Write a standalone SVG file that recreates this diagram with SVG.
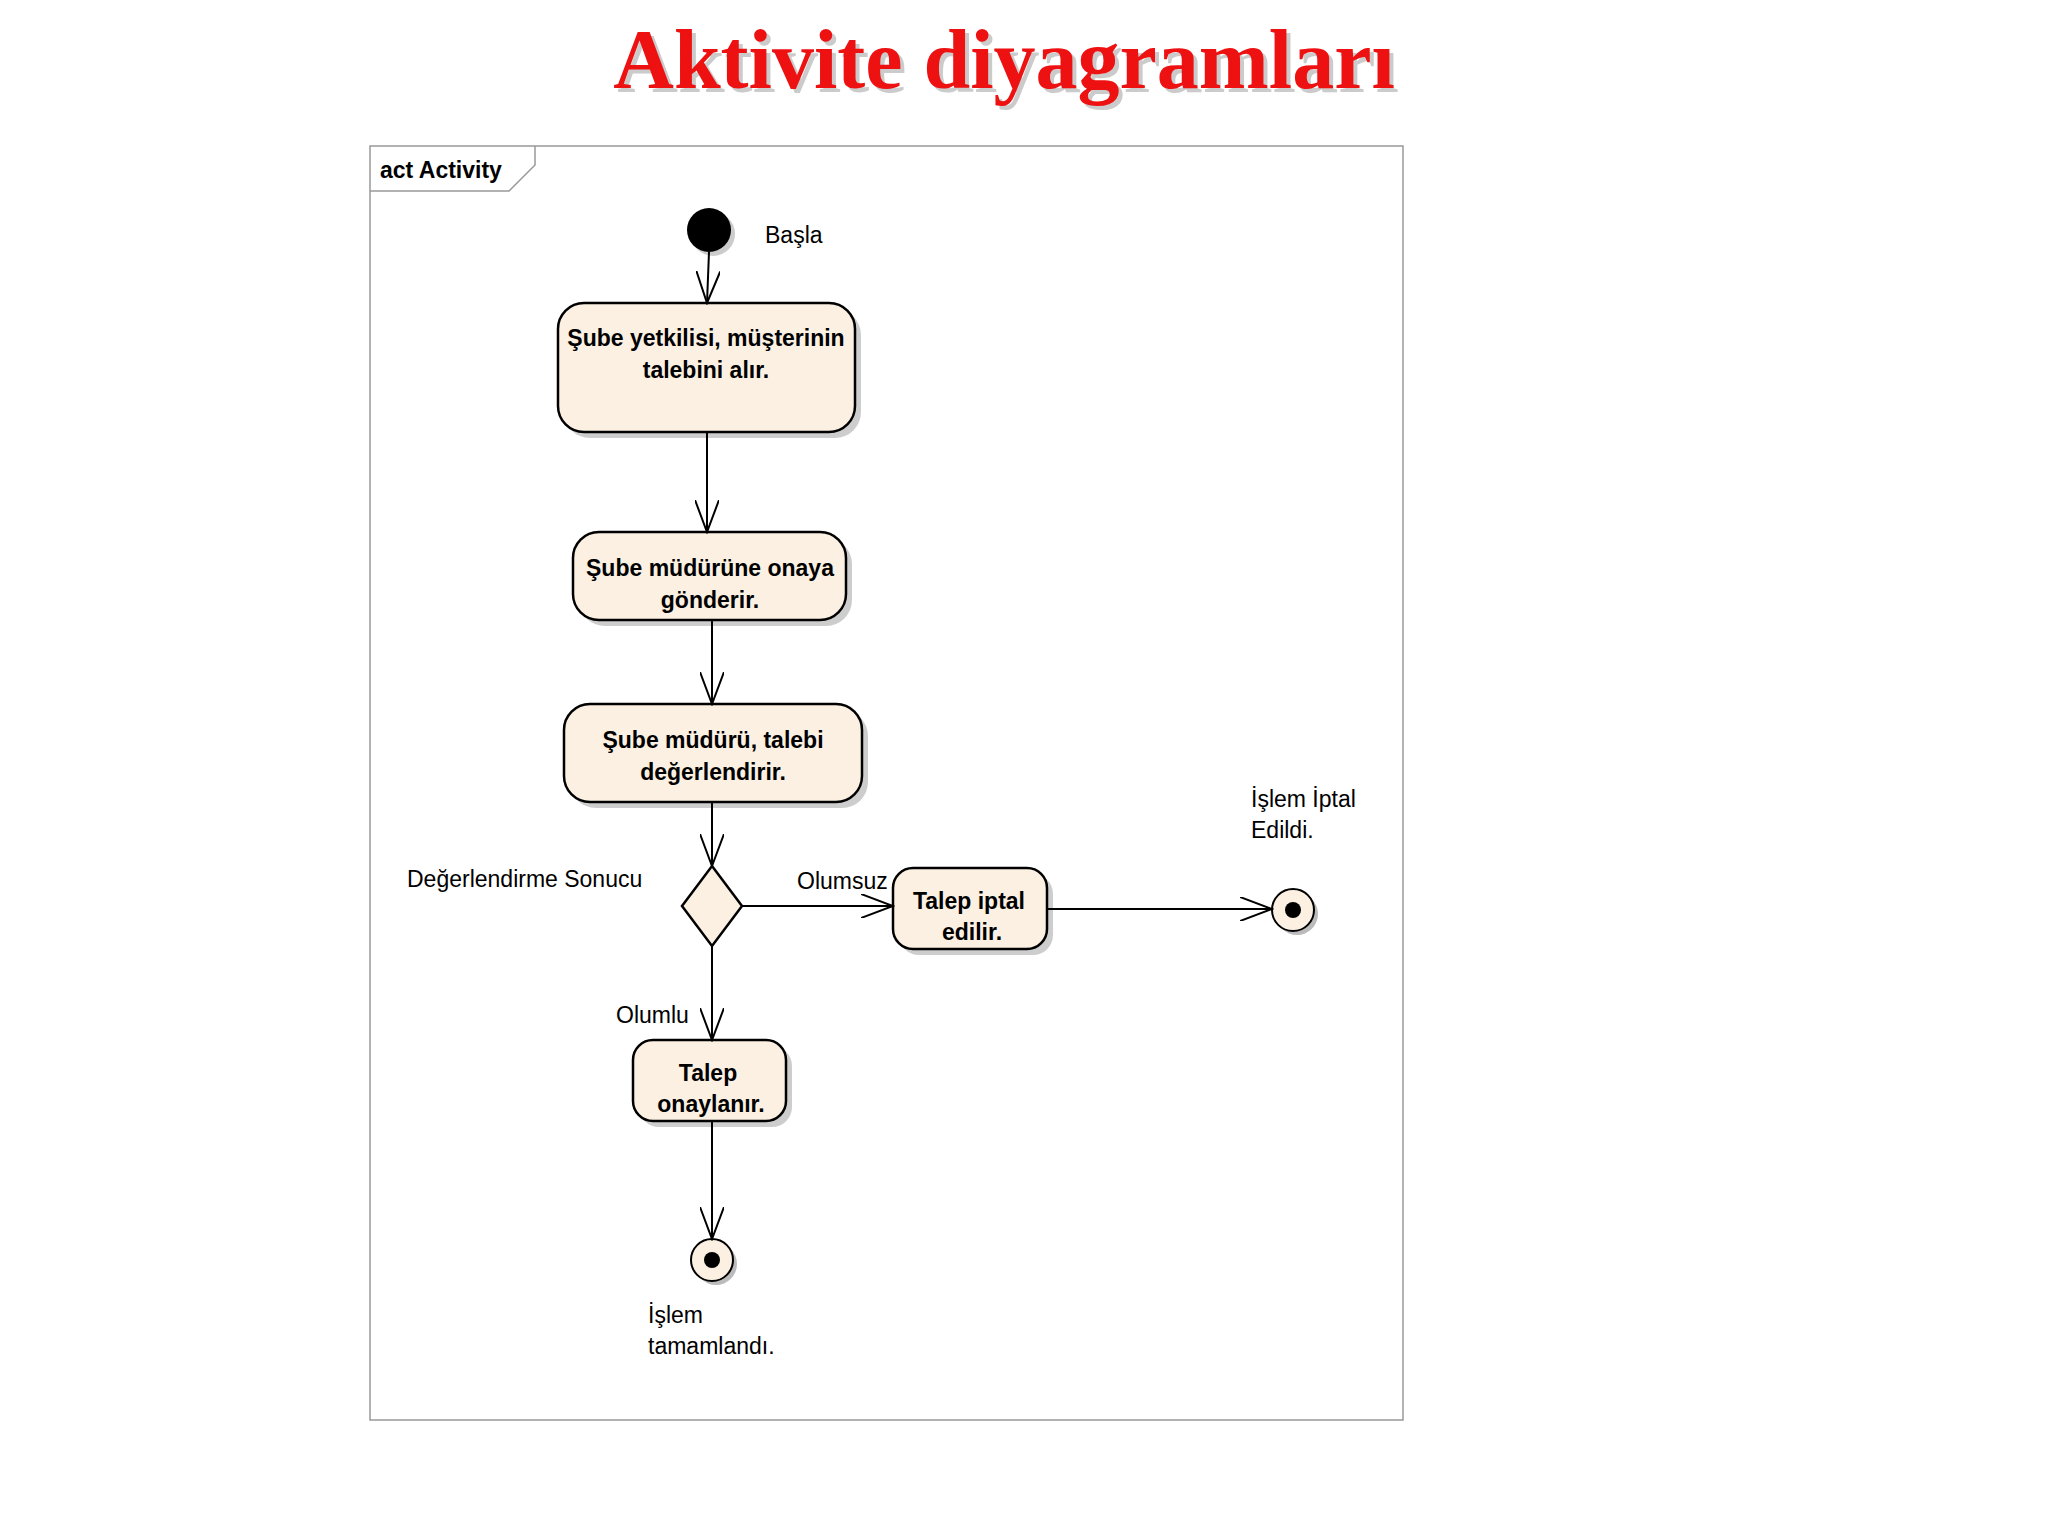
<svg xmlns="http://www.w3.org/2000/svg" width="2048" height="1536" viewBox="0 0 2048 1536">
<defs>
<marker id="arr" markerWidth="34" markerHeight="24" refX="32" refY="12" orient="auto" markerUnits="userSpaceOnUse">
<path d="M0,0 L32,12 L0,24" fill="none" stroke="#000" stroke-width="2"/>
</marker>
</defs>
<style>
.act{fill:#fbf0e2;stroke:#000;stroke-width:2.5}
.sh{fill:#b8b8b8;opacity:0.7}
.bt{font-family:"Liberation Sans",Arial,sans-serif;font-weight:bold;font-size:23px;text-anchor:middle}
.lt{font-family:"Liberation Sans",Arial,sans-serif;font-size:23px}
.cn{stroke:#000;stroke-width:2;fill:none;marker-end:url(#arr)}
</style>
<rect width="2048" height="1536" fill="#fff"/>
<text x="1008" y="92" font-family="Liberation Serif,serif" font-weight="bold" font-size="84" fill="#999" text-anchor="middle" opacity="0.5">Aktivite diyagramları</text>
<text x="1004" y="88" font-family="Liberation Serif,serif" font-weight="bold" font-size="84" fill="#ee1111" text-anchor="middle">Aktivite diyagramları</text>
<g id="frame">
<rect x="370" y="146" width="1033" height="1274" fill="#fff" stroke="#999" stroke-width="1.5"/>
<path d="M370,191 L509,191 L535,165 L535,146" fill="none" stroke="#999" stroke-width="1.5"/>
<text x="380" y="178" class="lt" font-weight="bold" font-size="22">act Activity</text>
</g>
<g id="start">
<circle cx="713" cy="234" r="22" fill="#999" opacity="0.5"/>
<circle cx="709" cy="230" r="22" fill="#000"/>
<text x="765" y="243" class="lt">Başla</text>
</g>
<g id="n1"><rect x="564" y="309" width="297" height="129" rx="26" class="sh"/><rect x="558" y="303" width="297" height="129" rx="26" class="act"/>
<text x="706" y="346" class="bt">Şube yetkilisi, müşterinin</text><text x="706" y="378" class="bt">talebini alır.</text></g>
<g id="n2"><rect x="579" y="538" width="273" height="88" rx="26" class="sh"/><rect x="573" y="532" width="273" height="88" rx="26" class="act"/>
<text x="710" y="576" class="bt">Şube müdürüne onaya</text><text x="710" y="608" class="bt">gönderir.</text></g>
<g id="n3"><rect x="570" y="710" width="298" height="98" rx="26" class="sh"/><rect x="564" y="704" width="298" height="98" rx="26" class="act"/>
<text x="713" y="748" class="bt">Şube müdürü, talebi</text><text x="713" y="780" class="bt">değerlendirir.</text></g>
<g id="decision">
<path d="M712,866 L742,906 L712,946 L682,906 Z" class="act" stroke-width="2"/>
<text x="407" y="887" class="lt">Değerlendirme Sonucu</text>
</g>
<g id="n4"><rect x="899" y="874" width="154" height="81" rx="20" class="sh"/><rect x="893" y="868" width="154" height="81" rx="20" class="act"/>
<text x="969" y="909" class="bt">Talep iptal</text><text x="972" y="940" class="bt">edilir.</text></g>
<g id="n5"><rect x="639" y="1046" width="153" height="81" rx="20" class="sh"/><rect x="633" y="1040" width="153" height="81" rx="20" class="act"/>
<text x="708" y="1081" class="bt">Talep</text><text x="711" y="1112" class="bt">onaylanır.</text></g>
<g id="end1">
<circle cx="716" cy="1264" r="21" fill="#bbb"/>
<circle cx="712" cy="1260" r="21" fill="#fbf0e2" stroke="#000" stroke-width="2"/>
<circle cx="712" cy="1260" r="8" fill="#000"/>
<text x="648" y="1323" class="lt">İşlem</text><text x="648" y="1354" class="lt">tamamlandı.</text>
</g>
<g id="end2">
<circle cx="1297" cy="914" r="21" fill="#bbb"/>
<circle cx="1293" cy="910" r="21" fill="#fbf0e2" stroke="#000" stroke-width="2"/>
<circle cx="1293" cy="910" r="8" fill="#000"/>
<text x="1251" y="807" class="lt">İşlem İptal</text><text x="1251" y="838" class="lt">Edildi.</text>
</g>
<g id="connectors">
<line x1="709" y1="252" x2="707" y2="303" class="cn"/>
<line x1="707" y1="432" x2="707" y2="532" class="cn"/>
<line x1="712" y1="620" x2="712" y2="704" class="cn"/>
<line x1="712" y1="802" x2="712" y2="866" class="cn"/>
<line x1="742" y1="906" x2="893" y2="906" class="cn"/>
<line x1="1047" y1="909" x2="1272" y2="909" class="cn"/>
<line x1="712" y1="946" x2="712" y2="1040" class="cn"/>
<line x1="712" y1="1121" x2="712" y2="1239" class="cn"/>
<text x="797" y="889" class="lt">Olumsuz</text>
<text x="616" y="1023" class="lt">Olumlu</text>
</g>
</svg>
